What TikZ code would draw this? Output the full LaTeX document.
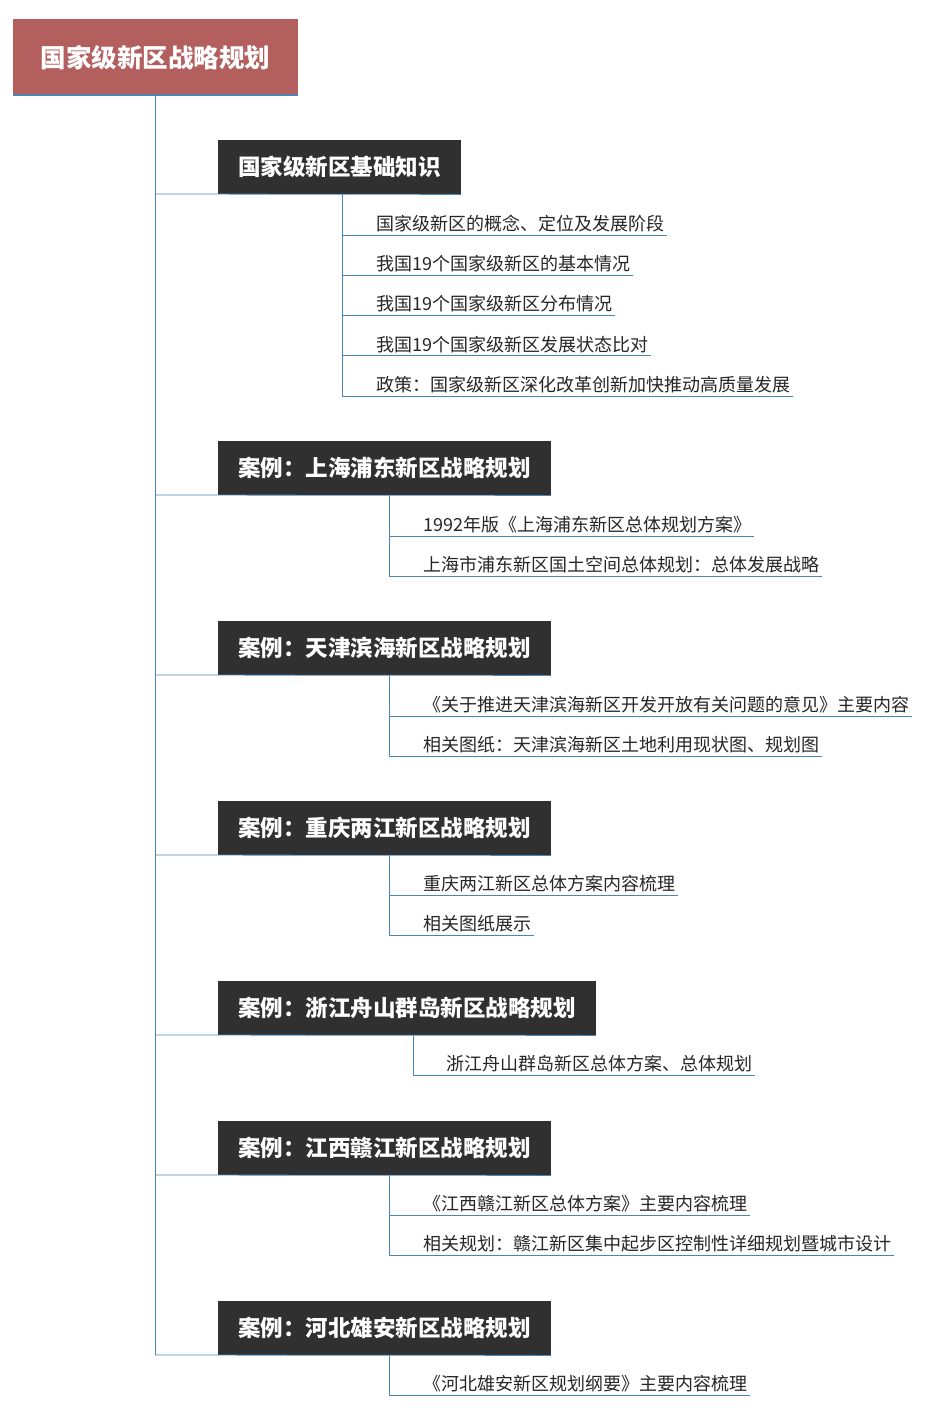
\documentclass[tikz,border=0pt]{standalone}
\usepackage{fontspec}
\setmainfont{Noto Sans CJK SC}
\definecolor{rootred}{HTML}{B35F5E}
\definecolor{darkbox}{HTML}{303030}
\definecolor{linkblue}{HTML}{4A86B5}
\tikzset{
  rootbox/.style={fill=rootred, text=white, font=\bfseries\fontsize{25.5}{28}\selectfont, minimum width=285pt, minimum height=76pt, anchor=north west, inner sep=0pt},
  secbox/.style={fill=darkbox, text=white, font=\bfseries\fontsize{22.5}{25}\selectfont, minimum height=54pt, anchor=north west, inner xsep=20pt},
  itemtext/.style={font=\fontsize{18}{21}\selectfont, text=black!85, anchor=south west, inner xsep=3pt, inner ysep=3pt},
  link/.style={linkblue, line width=0.8pt}
}
\begin{document}
\begin{tikzpicture}[x=1pt, y=-1pt]
  \useasboundingbox (0,0) rectangle (939,1411);
  % root
  \node[rootbox] (root) at (13,19) {国家级新区战略规划};
  \draw[linkblue, line width=2pt] (13,95) -- (298,95);
  \coordinate (trunk) at (155,95);
  \draw[link] (trunk) -- (155,1355);
  % sections
  \node[secbox] (s1) at (218,140) {国家级新区基础知识};
  \node[secbox] (s2) at (218,441) {案例：上海浦东新区战略规划};
  \node[secbox] (s3) at (218,621) {案例：天津滨海新区战略规划};
  \node[secbox] (s4) at (218,801) {案例：重庆两江新区战略规划};
  \node[secbox] (s5) at (218,981) {案例：浙江舟山群岛新区战略规划};
  \node[secbox] (s6) at (218,1121) {案例：江西赣江新区战略规划};
  \node[secbox] (s7) at (218,1301) {案例：河北雄安新区战略规划};
  \foreach \s/\y in {s1/194,s2/495,s3/675,s4/855,s5/1035,s6/1175,s7/1355}
    \draw[link] (155,\y) -- (\s.south east);
  % items of section 1
  \foreach \t [count=\i] in {国家级新区的概念、定位及发展阶段, 我国19个国家级新区的基本情况,
      我国19个国家级新区分布情况, 我国19个国家级新区发展状态比对,
      政策：国家级新区深化改革创新加快推动高质量发展} {
    \pgfmathsetmacro{\yy}{195+40.2*\i}
    \node[itemtext] (a\i) at (373,\yy) {\t};
    \draw[link] (342,\yy) -- (a\i.south east);
  }
  \draw[link] (342,194) -- (342,396);
  % section 2
  \node[itemtext] (b1) at (420,536) {1992年版《上海浦东新区总体规划方案》};
  \node[itemtext] (b2) at (420,576) {上海市浦东新区国土空间总体规划：总体发展战略};
  % section 3
  \node[itemtext] (c1) at (420,716) {《关于推进天津滨海新区开发开放有关问题的意见》主要内容};
  \node[itemtext] (c2) at (420,756) {相关图纸：天津滨海新区土地利用现状图、规划图};
  % section 4
  \node[itemtext] (d1) at (420,895) {重庆两江新区总体方案内容梳理};
  \node[itemtext] (d2) at (420,935) {相关图纸展示};
  % section 5
  \node[itemtext] (e1) at (443,1075) {浙江舟山群岛新区总体方案、总体规划};
  % section 6
  \node[itemtext] (f1) at (420,1215) {《江西赣江新区总体方案》主要内容梳理};
  \node[itemtext] (f2) at (420,1255) {相关规划：赣江新区集中起步区控制性详细规划暨城市设计};
  % section 7
  \node[itemtext] (g1) at (420,1395) {《河北雄安新区规划纲要》主要内容梳理};
  \foreach \n/\x/\y in {b1/389/536, b2/389/576, c1/389/716, c2/389/756, d1/389/895,
      d2/389/935, e1/413/1075, f1/389/1215, f2/389/1255, g1/389/1395}
    \draw[link] (\x,\y) -- (\n.south east);
  \draw[link] (389,495) -- (389,576);
  \draw[link] (389,675) -- (389,756);
  \draw[link] (389,855) -- (389,935);
  \draw[link] (413,1035) -- (413,1075);
  \draw[link] (389,1175) -- (389,1255);
  \draw[link] (389,1355) -- (389,1395);
\end{tikzpicture}
\end{document}
